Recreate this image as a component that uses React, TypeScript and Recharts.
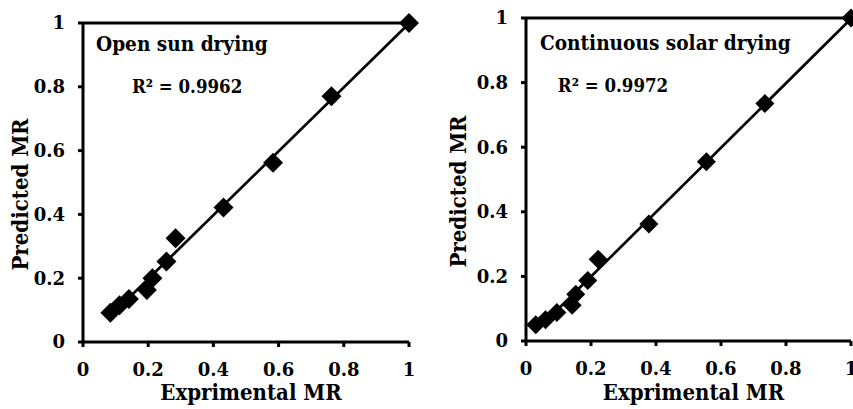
import React from 'react';
import {
  ScatterChart,
  Scatter,
  XAxis,
  YAxis,
  ReferenceLine,
  ReferenceDot,
  Label,
} from 'recharts';

// ---- data ----
const axisTicks = [0, 0.2, 0.4, 0.6, 0.8, 1];
const tickLabels = ['0', '0.2', '0.4', '0.6', '0.8', '1'];

const openSunExperimental = [0.084, 0.112, 0.141, 0.196, 0.213, 0.256, 0.284, 0.431, 0.583, 0.762, 1];
const openSunPredicted = [0.092, 0.115, 0.135, 0.163, 0.2, 0.252, 0.325, 0.422, 0.562, 0.77, 1];

const solarExperimental = [0.03, 0.06, 0.095, 0.142, 0.153, 0.19, 0.222, 0.378, 0.555, 0.735, 1];
const solarPredicted = [0.05, 0.066, 0.088, 0.111, 0.145, 0.187, 0.253, 0.362, 0.555, 0.735, 1];

const panelTitles = ['Open sun drying', 'Continuous solar drying'];
const r2Labels = ['R² = 0.9962', 'R² = 0.9972'];
const xTitle = 'Exprimental MR';
const yTitle = 'Predicted MR';

const FONT = '"DejaVu Serif", serif';

function fitLine(xs: number[], ys: number[]) {
  const n = xs.length;
  const mx = xs.reduce((a, b) => a + b, 0) / n;
  const my = ys.reduce((a, b) => a + b, 0) / n;
  let sxy = 0;
  let sxx = 0;
  for (let i = 0; i < n; i++) {
    sxy += (xs[i] - mx) * (ys[i] - my);
    sxx += (xs[i] - mx) * (xs[i] - mx);
  }
  const slope = sxy / sxx;
  const icpt = my - slope * mx;
  const x0 = Math.min(...xs);
  const x1 = Math.max(...xs);
  return [
    { x: x0, y: slope * x0 + icpt },
    { x: x1, y: Math.min(1, slope * x1 + icpt) },
  ];
}

const makeDiamond = (h: number) => (props: any) => {
  const { cx, cy } = props;
  if (cx == null || cy == null) return null;
  return (
    <polygon
      points={`${cx},${cy - h} ${cx + h},${cy} ${cx},${cy + h} ${cx - h},${cy}`}
      fill="#000"
    />
  );
};

const st = (size: number, condensed = false) => ({
  fontFamily: FONT,
  fontWeight: 'bold' as const,
  fill: '#000',
  fontSize: size,
  fontStretch: condensed ? 'condensed' : 'normal',
});

type PanelProps = {
  left: number;
  width: number;
  top: number;
  right: number;
  yAxisWidth: number;
  xAxisHeight: number;
  exp: number[];
  pred: number[];
  title: string;
  r2: string;
  titleAt: [number, number];
  r2At: [number, number];
  half: number;
  yTitleDx: number;
};

function Panel(p: PanelProps) {
  const data = p.exp.map((x, i) => ({ x, y: p.pred[i] }));
  const seg = fitLine(p.exp, p.pred);
  const Diamond = makeDiamond(p.half);
  return (
    <div style={{ position: 'absolute', left: p.left, top: 0 }}>
      <ScatterChart
        width={p.width}
        height={409}
        margin={{ top: p.top, right: p.right, bottom: 0, left: 0 }}
      >
        <XAxis
          type="number"
          dataKey="x"
          domain={[0, 1]}
          ticks={axisTicks}
          interval={0}
          tickFormatter={(v: number) => tickLabels[axisTicks.indexOf(v)] ?? String(v)}
          height={p.xAxisHeight}
          tickSize={5}
          tickMargin={16}
          tickLine={{ stroke: '#000', strokeWidth: 3 }}
          axisLine={{ stroke: '#000', strokeWidth: 3 }}
          tick={st(18)}
        >
          <Label
            content={(lp: any) => {
              const vb = lp.viewBox;
              return (
                <text
                  x={vb.x + vb.width / 2 + 5}
                  y={vb.y + vb.height - 9}
                  textAnchor="middle"
                  style={st(22, true)}
                >
                  {xTitle}
                </text>
              );
            }}
          />
        </XAxis>
        <YAxis
          type="number"
          dataKey="y"
          domain={[0, 1]}
          ticks={axisTicks}
          interval={0}
          tickFormatter={(v: number) => tickLabels[axisTicks.indexOf(v)] ?? String(v)}
          width={p.yAxisWidth}
          tickSize={5}
          tickMargin={13}
          tickLine={{ stroke: '#000', strokeWidth: 3 }}
          axisLine={{ stroke: '#000', strokeWidth: 3 }}
          tick={st(18)}
        >
          <Label
            content={(lp: any) => {
              const vb = lp.viewBox;
              const cx = vb.x + p.yTitleDx;
              const cy = vb.y + vb.height / 2 + 12;
              return (
                <text
                  x={cx}
                  y={cy}
                  textAnchor="middle"
                  dominantBaseline="central"
                  transform={`rotate(-90, ${cx}, ${cy})`}
                  style={st(22, true)}
                >
                  {yTitle}
                </text>
              );
            }}
          />
        </YAxis>
        <ReferenceLine y={1} stroke="#000" strokeWidth={3} />
        <ReferenceLine segment={seg} stroke="#000" strokeWidth={2.7} />
        <Scatter data={data} shape={Diamond} isAnimationActive={false} />
        <ReferenceDot
          x={p.titleAt[0]}
          y={p.titleAt[1]}
          r={0}
          fill="none"
          stroke="none"
          label={{
            content: (lp: any) => (
              <text x={lp.viewBox.x} y={lp.viewBox.y} style={st(20.6, true)}>
                {p.title}
              </text>
            ),
          }}
        />
        <ReferenceDot
          x={p.r2At[0]}
          y={p.r2At[1]}
          r={0}
          fill="none"
          stroke="none"
          label={{
            content: (lp: any) => (
              <text x={lp.viewBox.x} y={lp.viewBox.y} style={st(18.5, true)}>
                {p.r2}
              </text>
            ),
          }}
        />
      </ScatterChart>
    </div>
  );
}

export default function App() {
  return (
    <div style={{ position: 'absolute', left: 0, top: 0, width: 853, height: 409, background: '#fff', overflow: 'hidden' }}>
      <Panel
        left={0}
        width={430}
        top={23}
        right={21}
        yAxisWidth={83}
        xAxisHeight={67}
        exp={openSunExperimental}
        pred={openSunPredicted}
        title={panelTitles[0]}
        r2={r2Labels[0]}
        titleAt={[0.04, 0.912]}
        r2At={[0.15, 0.78]}
        half={10}
        yTitleDx={20}
      />
      <Panel
        left={440}
        width={413}
        top={18}
        right={2}
        yAxisWidth={86}
        xAxisHeight={68}
        exp={solarExperimental}
        pred={solarPredicted}
        title={panelTitles[1]}
        r2={r2Labels[1]}
        titleAt={[0.043, 0.9]}
        r2At={[0.098, 0.771]}
        half={9.5}
        yTitleDx={18}
      />
    </div>
  );
}
